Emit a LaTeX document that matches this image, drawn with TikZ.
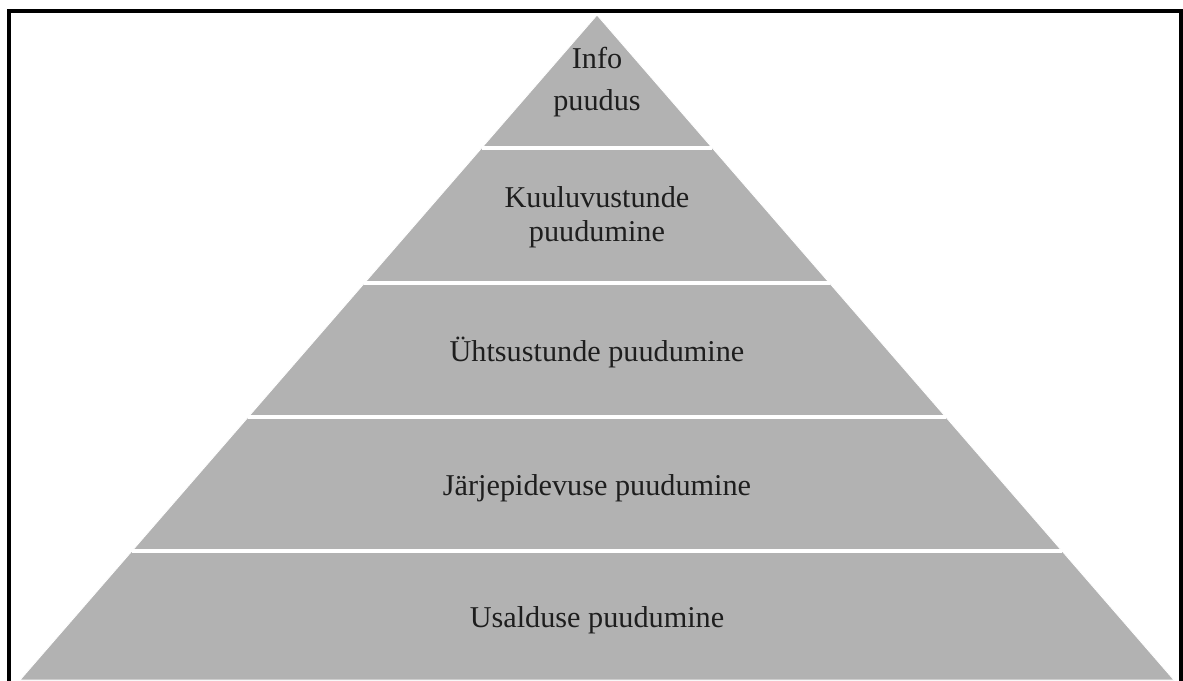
\documentclass[tikz,border=0pt]{standalone}
\usepackage{fontspec}
\setmainfont{Liberation Serif}
\usetikzlibrary{calc}
\definecolor{pyrgray}{RGB}{178,178,178}
\definecolor{txtgray}{RGB}{30,30,30}
\tikzset{
  pyramid/.style={fill=pyrgray, draw=white, line width=0.6pt},
  layersep/.style={draw=white, line width=2.2pt},
  lbl/.style={text=txtgray, align=center, inner sep=0pt, font=\fontsize{21.5}{24}\selectfont},
}
\begin{document}
\begin{tikzpicture}[x=0.025cm, y=-0.025cm]
\useasboundingbox (0,0) rectangle (1183,680);
\clip (0,0) rectangle (1183,680);
\coordinate (apex) at (597,15);
\coordinate (bl) at (20,680);
\coordinate (br) at (1174,680);
\fill[white] (0,0) rectangle (1183,680);
\draw[pyramid] (apex) -- (br) -- (bl) -- cycle;
% white lines between the layers
\foreach \t in {0.2,0.403,0.6045,0.806}
  \draw[layersep] ($(apex)!\t!(bl)$) -- ($(apex)!\t!(br)$);
\draw[line width=2.2pt] (9,700) -- (9,11) -- (1181,11) -- (1181,700);
\node[lbl, font=\fontsize{21.5}{30}\selectfont] (info) at (597,82) {Info\\puudus};
\node[lbl] (kuuluvus) at (597,217) {Kuuluvustunde\\puudumine};
\node[lbl] (yhtsus) at (597,352) {Ühtsustunde puudumine};
\node[lbl] (jarjepidevus) at (597,488) {Järjepidevuse puudumine};
\node[lbl] (usaldus) at (597,620) {Usalduse puudumine};
\end{tikzpicture}
\end{document}
